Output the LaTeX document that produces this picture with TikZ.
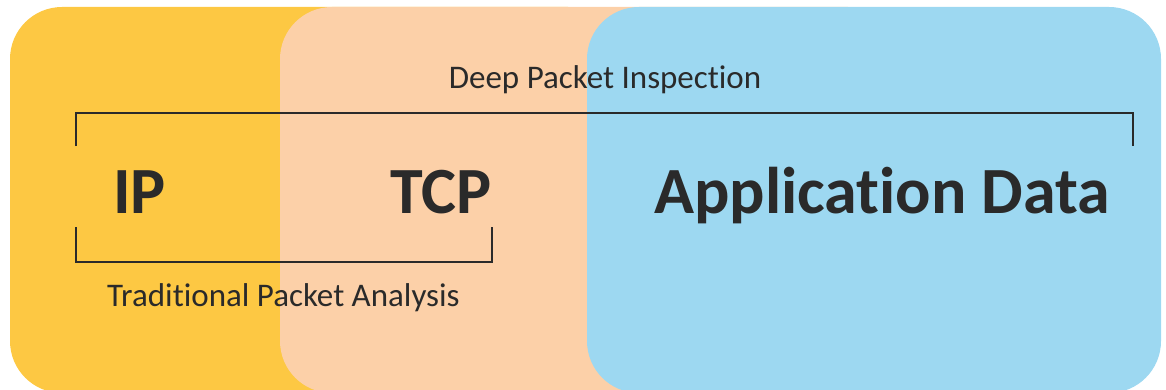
\documentclass[tikz,border=0pt]{standalone}
\usepackage{fontspec}
\setmainfont{Carlito}[RawFeature=-liga]
\usetikzlibrary{positioning}
\definecolor{ipy}{RGB}{253,200,67}
\definecolor{tcpo}{RGB}{252,208,168}
\definecolor{appb}{RGB}{157,216,241}
\definecolor{inkg}{RGB}{42,42,42}
\begin{document}
\begin{tikzpicture}[x=1pt, y=1pt,
            layer/.style={rounded corners=52pt},
            lbl/.style={inner sep=0pt, text=inkg, font=\fontsize{33}{36}\selectfont},
            hdr/.style={inner sep=0pt, text=inkg, font=\fontsize{66}{72}\selectfont\bfseries},
            brk/.style={draw=inkg, line width=2.2pt}]
          \useasboundingbox (0,0) rectangle (1166,389);
          % layers
          \fill[ipy, layer] (10,-4) rectangle (620,382);
          \fill[tcpo, layer] (280,-4) rectangle (900,382);
          \fill[appb, layer] (587,-4) rectangle (1161,382);
          % labels
          \node[hdr, anchor=base west] (ip) at (113,176) {IP};
          \node[hdr, anchor=base east] (tcp) at (492,176) {TCP};
          \node[hdr, anchor=base west] (app) at (654,176) {Application Data};
          \node[lbl, anchor=base] (dpi) at (605,301) {Deep Packet Inspection};
          \node[lbl, anchor=base west] (tpa) at (107,83) {Traditional Packet Analysis};
          % brackets
          \coordinate (d1) at (76,243);
          \coordinate (d2) at (1133,243);
          \coordinate (t1) at (76,162);
          \coordinate (t2) at (492,162);
          \draw[brk] (d1) -- ++(0,33) -| (d2);
          \draw[brk] (t1) -- ++(0,-35) -| (t2);
        \end{tikzpicture}
\end{document}
